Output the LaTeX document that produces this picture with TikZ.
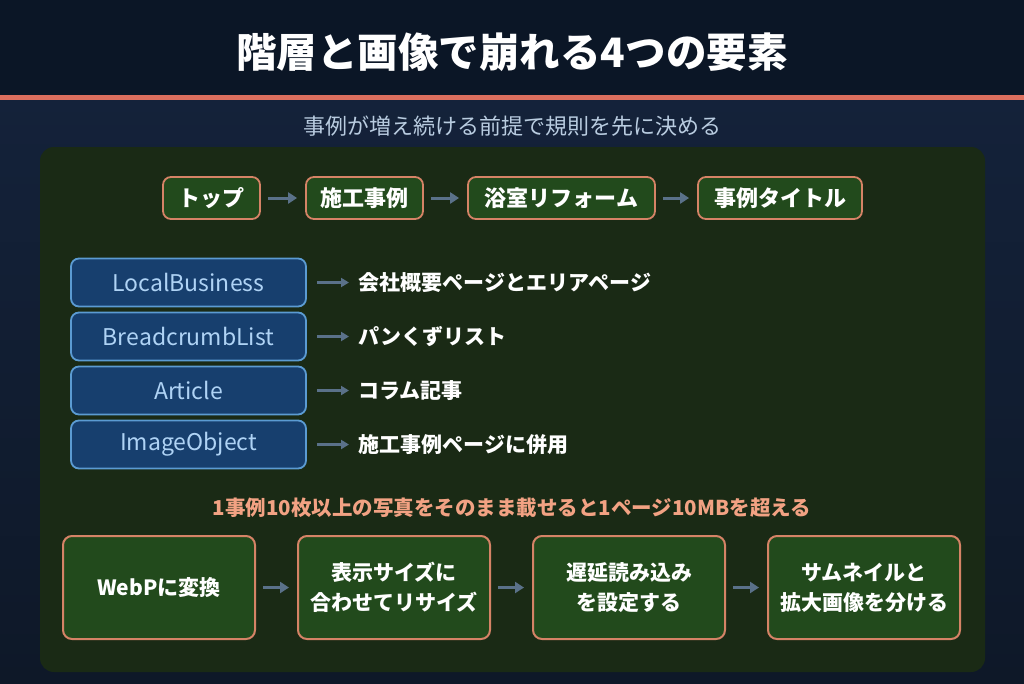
\documentclass[tikz,border=0pt]{standalone}
\usepackage{fontspec}
\setmainfont{Noto Sans CJK JP}
\usetikzlibrary{arrows.meta,positioning}
\definecolor{hdr}{HTML}{0B1626}
\definecolor{bgtop}{HTML}{14223A}
\definecolor{bgbot}{HTML}{0E1828}
\definecolor{redline}{HTML}{DD6F5E}
\definecolor{panel}{HTML}{1A2A15}
\definecolor{gbox}{HTML}{224A1C}
\definecolor{gbord}{HTML}{D58366}
\definecolor{bbox}{HTML}{173F6E}
\definecolor{bbord}{HTML}{5B9BD2}
\definecolor{btext}{HTML}{AFD3F5}
\definecolor{arr}{HTML}{5A7189}
\definecolor{subt}{HTML}{B9CCE0}
\definecolor{orng}{HTML}{F2A283}
\tikzset{
  crumb/.style={draw=gbord, line width=1.8pt, fill=gbox, rounded corners=8pt, minimum height=42pt, inner xsep=12pt, text=white, font=\bfseries\fontsize{22}{26}\selectfont},
  schema/.style={draw=bbord, line width=1.8pt, fill=bbox, rounded corners=8pt, minimum width=235pt, minimum height=48pt, text=btext, font=\fontsize{23}{26}\selectfont},
  stepbox/.style={draw=gbord, line width=2pt, fill=gbox, rounded corners=9pt, minimum width=192pt, minimum height=103pt, text=white, align=center, font=\bfseries\fontsize{21}{30}\selectfont},
  lbl/.style={text=white, anchor=west, font=\bfseries\fontsize{21}{24}\selectfont},
  conn/.style={draw=arr, line width=3pt, shorten <=7pt, shorten >=8pt, -{Triangle[length=9pt,width=11pt]}},
  sconn/.style={draw=arr, line width=2.2pt, -{Triangle[length=8pt,width=9pt]}}
}
\begin{document}
\begin{tikzpicture}[x=1pt,y=-1pt]
\useasboundingbox (0,0) rectangle (1024,683);
\shade[top color=bgtop, bottom color=bgbot] (0,95) rectangle (1024,683);
\fill[hdr] (0,0) rectangle (1024,95);
\fill[redline] (0,95) rectangle (1024,100);
\node[text=white, font=\bfseries\fontsize{40.5}{46}\selectfont] (title) at (512,52) {階層と画像で崩れる4つの要素};
\node[text=subt, font=\fontsize{22}{26}\selectfont] (sub) at (512,126) {事例が増え続ける前提で規則を先に決める};
\fill[panel, rounded corners=14pt] (40,147) rectangle (985,672);
% breadcrumb
\node[crumb, minimum width=97pt] (c1) at (211.5,198) {トップ};
\node[crumb, minimum width=117pt] (c2) at (364.5,198) {施工事例};
\node[crumb, minimum width=187pt] (c3) at (561.5,198) {浴室リフォーム};
\node[crumb, minimum width=164pt] (c4) at (780,198) {事例タイトル};
\draw[conn] (c1) -- (c2);
\draw[conn] (c2) -- (c3);
\draw[conn] (c3) -- (c4);
% schema
\node[schema] (s1) at (188.5,282.5) {LocalBusiness};
\node[schema] (s2) at (188.5,336.5) {BreadcrumbList};
\node[schema] (s3) at (188.5,390.5) {Article};
\node[schema] (s4) at (188.5,444.5) {ImageObject};
\node[lbl] (l1) at (355,282.5) {会社概要ページとエリアページ};
\node[lbl] (l2) at (355,336.5) {パンくずリスト};
\node[lbl] (l3) at (355,390.5) {コラム記事};
\node[lbl] (l4) at (355,444.5) {施工事例ページに併用};
\draw[sconn] ([xshift=10pt]s1.east) -- ([xshift=-6pt]l1.west);
\draw[sconn] ([xshift=10pt]s2.east) -- ([xshift=-6pt]l2.west);
\draw[sconn] ([xshift=10pt]s3.east) -- ([xshift=-6pt]l3.west);
\draw[sconn] ([xshift=10pt]s4.east) -- ([xshift=-6pt]l4.west);
% warning
\node[text=orng, font=\bfseries\fontsize{20.5}{24}\selectfont] (warn) at (512,508) {1事例10枚以上の写真をそのまま載せると1ページ10MBを超える};
% steps
\node[stepbox] (b1) at (159,587.5) {WebPに変換};
\node[stepbox] (b2) at (394,587.5) {表示サイズに\\合わせてリサイズ};
\node[stepbox] (b3) at (629,587.5) {遅延読み込み\\を設定する};
\node[stepbox] (b4) at (864,587.5) {サムネイルと\\拡大画像を分ける};
\draw[conn] (b1) -- (b2);
\draw[conn] (b2) -- (b3);
\draw[conn] (b3) -- (b4);
\end{tikzpicture}
\end{document}
